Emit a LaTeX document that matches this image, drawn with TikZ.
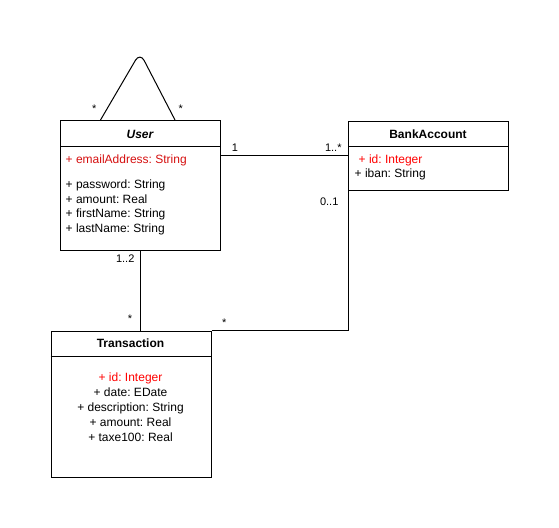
\documentclass[tikz,border=0pt]{standalone}
\usepackage{fontspec}
\setmainfont{Liberation Sans}
\frenchspacing
\usetikzlibrary{calc}
\definecolor{attrred}{RGB}{214,16,16}
\definecolor{keyred}{RGB}{255,0,0}
\tikzset{
  classbox/.style={draw=black, line width=1pt, fill=white, anchor=north west, inner sep=0pt},
  conn/.style={draw=black, line width=1pt},
  attr/.style={inner sep=0pt, font=\fontsize{12}{14}\selectfont},
  title/.style={inner sep=0pt, anchor=base, font=\fontsize{12}{14}\selectfont\bfseries},
  mult/.style={inner sep=0pt, anchor=base, font=\fontsize{11}{13}\selectfont},
}
\begin{document}
\begin{tikzpicture}[x=1pt,y=-1pt]
\useasboundingbox[fill=white] (0,0) rectangle (559,527);

% User class
\node[classbox, minimum width=160, minimum height=130] (user) at (60,120) {};
\draw[conn] ($(user.north west)+(0,26.5)$) -- ($(user.north east)+(0,26.5)$);
\node[title, font=\fontsize{12}{14}\selectfont\bfseries\itshape] (usertitle) at (140,138.3) {User};
\node[attr, anchor=base west, text=attrred] (uemail) at (65.5,163.5) {+ emailAddress: String};
\node[attr, anchor=base west] (upass) at (65.5,188.6) {+ password: String};
\node[attr, anchor=base west] (uamount) at (65.5,203.2) {+ amount: Real};
\node[attr, anchor=base west] (ufirst) at (65.5,217.9) {+ firstName: String};
\node[attr, anchor=base west] (ulast) at (65.5,232.4) {+ lastName: String};

% BankAccount class
\node[classbox, minimum width=160, minimum height=69.5] (bank) at (348,120.5) {};
\draw[conn] ($(bank.north west)+(0,26)$) -- ($(bank.north east)+(0,26)$);
\node[title] (banktitle) at (428,138.3) {BankAccount};
\node[attr, anchor=base west, text=keyred] (bid) at (358.5,163.2) {+ id: Integer};
\node[attr, anchor=base west] (biban) at (354.5,177.3) {+ iban: String};

% Transaction class
\node[classbox, minimum width=160, minimum height=146] (trans) at (50.5,330.5) {};
\draw[conn] ($(trans.north west)+(0,26)$) -- ($(trans.north east)+(0,26)$);
\node[title] (transtitle) at (130.5,347.8) {Transaction};
\node[attr, anchor=base, text=keyred] (tid) at (130.5,381.2) {+ id: Integer};
\node[attr, anchor=base] (tdate) at (130.5,396.2) {+ date: EDate};
\node[attr, anchor=base] (tdesc) at (130.5,411.4) {+ description: String};
\node[attr, anchor=base] (tamount) at (130.5,426.6) {+ amount: Real};
\node[attr, anchor=base] (ttaxe) at (130.5,441.2) {+ taxe100: Real};

% self association on User
\coordinate (loopa) at ($(user.north west)+(40.5,0)$);
\coordinate (looptop) at (140,52.5);
\coordinate (loopb) at ($(user.north west)+(115,0)$);
\draw[conn, rounded corners=9pt] (loopa) -- (looptop) -- (loopb);
\node[mult] (m1) at (94.3,112) {*};
\node[mult] (m2) at (180.7,112) {*};

% User -- BankAccount
\draw[conn] (user.east |- bank.west) -- (bank.west);
\node[mult] (m3) at (235,151.7) {1};
\node[mult] (m4) at (333.3,151.7) {1..*};

% User -- Transaction
\draw[conn] (user.south) -- (user.south |- trans.north);
\node[mult] (m5) at (125.2,262.7) {1..2};
\node[mult] (m6) at (130,322) {*};

% BankAccount -- Transaction
\draw[conn] (bank.south west) -- (bank.south west |- trans.north east) -- (trans.north east);
\node[mult] (m7) at (329.2,205.7) {0..1};
\node[mult] (m8) at (224.2,326.3) {*};
\end{tikzpicture}
\end{document}
